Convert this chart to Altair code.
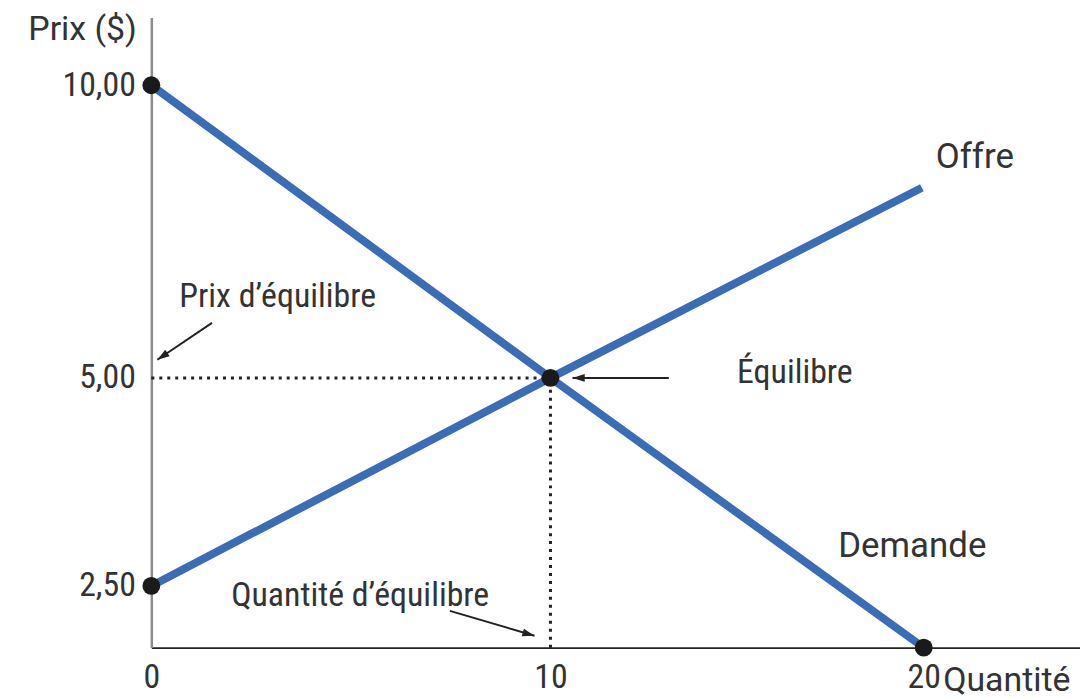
import altair as alt
import pandas as pd

# --- data ---
demand_q = [0, 10, 20]
demand_p = [10.0, 5.0, 0.0]
supply_q = [0, 10, 19.95]
supply_p = [2.5, 5.0, 8.25]
dot_q = [0, 0, 10, 20]
dot_p = [10.0, 2.5, 5.0, 0.0]
eq_q = 10
eq_p = 5.0
y_ticks = [2.5, 5.0, 10.0]
x_ticks = [0, 10, 20]

NARROW = "Roboto Condensed"
REG = "Roboto"
BLUE = "#3b6db6"
TXT = "#333333"

xs = alt.Scale(domain=[0, 10, 20, 24.15], range=[0, 401, 776, 933], nice=False, zero=False)
ys = alt.Scale(domain=[0, 2.5, 5, 10, 11.16], range=[633, 571, 362, 68, 0], nice=False, zero=False)

x_axis = alt.Axis(
    values=x_ticks, format="d", ticks=False, grid=False, domainColor="#222222",
    domainWidth=2, labelFont=NARROW, labelFontSize=34, labelColor=TXT, labelPadding=13,
    title="Quantité", titleFont=REG, titleFontSize=34, titleFontWeight="normal",
    titleColor=TXT, titleAlign="left", titleBaseline="alphabetic", titleX=795, titleY=43,
    labelFlush=False)
y_axis = alt.Axis(
    values=y_ticks, labelExpr="replace(format(datum.value, '.2f'), '.', ',')",
    ticks=False, grid=False, domainColor="#8c8c8c", domainWidth=2.5,
    labelFont=NARROW, labelFontSize=34, labelColor=TXT, labelPadding=16,
    title="Prix ($)", titleAngle=0, titleFont=REG, titleFontSize=34,
    titleFontWeight="normal", titleColor=TXT, titleAlign="right",
    titleBaseline="alphabetic", titleX=-15, titleY=22, labelFlush=False)


def X(f):
    return alt.X(f, scale=xs, axis=x_axis, title="Quantité")


def Y(f):
    return alt.Y(f, scale=ys, axis=y_axis, title="Prix ($)")


curves = pd.DataFrame(
    {"q": demand_q + supply_q, "p": demand_p + supply_p,
     "curve": ["Demande"] * 3 + ["Offre"] * 3}
)

lines = alt.Chart(curves).mark_line(strokeWidth=8, color=BLUE, strokeCap="butt").encode(
    x=X("q:Q"), y=Y("p:Q"), detail="curve:N",
)

guides = pd.DataFrame({
    "q": [0, eq_q], "p": [eq_p, 0], "q2": [eq_q, eq_q], "p2": [eq_p, eq_p]
})
dotted = alt.Chart(guides).mark_rule(strokeDash=[3, 5], strokeWidth=3, color="#222222").encode(
    x=X("q:Q"), y=Y("p:Q"), x2="q2:Q", y2="p2:Q",
)

dots = alt.Chart(pd.DataFrame({"q": dot_q, "p": dot_p})).mark_point(
    filled=True, size=320, color="#1a1a1a", opacity=1
).encode(x=X("q:Q"), y=Y("p:Q"))

# annotation arrows (tail -> tip)
arrows = pd.DataFrame({
    "q": [1.52, 13.17, 7.48], "p": [5.94, 5.0, 1.49],
    "q2": [0.15, 10.59, 9.60], "p2": [5.31, 5.0, 0.48],
    "ang": [236, 270, 106],
})
arrow_lines = alt.Chart(arrows).mark_rule(strokeWidth=2, color="#222222").encode(
    x=X("q:Q"), y=Y("p:Q"), x2="q2:Q", y2="p2:Q",
)
arrow_heads = alt.Chart(arrows).mark_point(
    shape="M0,0L0.32,1L-0.32,1Z", filled=True, size=600, color="#222222", opacity=1
).encode(
    x=X("q2:Q"), y=Y("p2:Q"),
    angle=alt.Angle("ang:Q", scale=None),
)

labels_reg = pd.DataFrame({
    "text": ["Offre", "Demande"], "q": [20.32, 17.71], "p": [8.59, 2.85],
})
text_reg = alt.Chart(labels_reg).mark_text(
    font=REG, fontSize=35, color=TXT, align="left", baseline="alphabetic"
).encode(x=X("q:Q"), y=Y("p:Q"), text="text:N")

labels_nar = pd.DataFrame({
    "text": ["Équilibre", "Prix d’équilibre", "Quantité d’équilibre"],
    "q": [15.0, 0.70, 2.0], "p": [4.94, 6.21, 1.69],
})
text_nar = alt.Chart(labels_nar).mark_text(
    font=NARROW, fontSize=34, color=TXT, align="left", baseline="alphabetic"
).encode(x=X("q:Q"), y=Y("p:Q"), text="text:N")

chart = alt.layer(lines, dotted, arrow_lines, arrow_heads, dots, text_reg, text_nar).properties(
    width=933, height=633,
    padding={"left": 144, "top": 8, "right": 0, "bottom": 49},
    autosize=alt.AutoSizeParams(type="none"),
    background="white",
).configure_view(stroke=None)

chart.save("out.html", embed_options={"renderer": "svg", "actions": False})
